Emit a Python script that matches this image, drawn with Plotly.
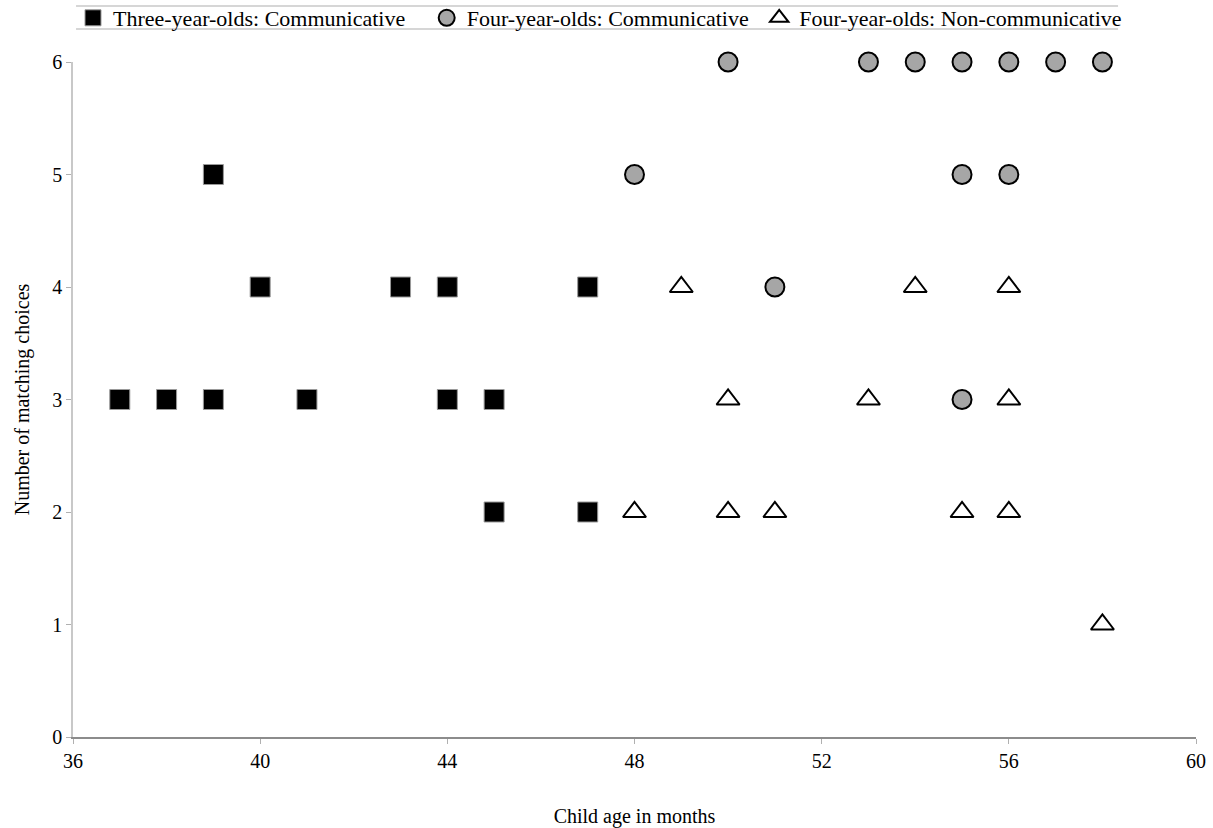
import plotly.graph_objects as go

# Three-year-olds: Communicative
three_comm_age = [37, 38, 39, 39, 40, 41, 43, 44, 44, 45, 45, 47, 47]
three_comm_val = [3, 3, 3, 5, 4, 3, 4, 4, 3, 3, 2, 4, 2]

# Four-year-olds: Communicative
four_comm_age = [48, 50, 51, 53, 54, 55, 56, 57, 58, 55, 56, 55]
four_comm_val = [5, 6, 4, 6, 6, 6, 6, 6, 6, 5, 5, 3]

# Four-year-olds: Non-communicative
four_non_age = [49, 54, 56, 50, 53, 56, 48, 50, 51, 55, 56, 58]
four_non_val = [4, 4, 4, 3, 3, 3, 2, 2, 2, 2, 2, 1]

x_ticks = [36, 40, 44, 48, 52, 56, 60]
y_ticks = [0, 1, 2, 3, 4, 5, 6]

FONT = "Liberation Serif"
NB = "\u00a0"

fig = go.Figure()
fig.add_trace(go.Scatter(
    x=three_comm_age, y=three_comm_val, mode="markers", cliponaxis=False,
    name="Three-year-olds: Communicative" + NB * 3,
    marker=dict(symbol="square", size=20, color="black",
                line=dict(color="#999999", width=1)),
))
fig.add_trace(go.Scatter(
    x=four_comm_age, y=four_comm_val, mode="markers", cliponaxis=False,
    name="Four-year-olds: Communicative" + NB,
    marker=dict(symbol="circle", size=19, color="#a6a6a6",
                line=dict(color="black", width=2)),
))
fig.add_trace(go.Scatter(
    x=four_non_age, y=four_non_val, mode="markers", cliponaxis=False,
    name="Four-year-olds: Non-communicative",
    marker=dict(symbol="triangle-up", size=20, color="white",
                line=dict(color="black", width=2)),
))

fig.update_layout(
    width=1213, height=828,
    margin=dict(l=73, r=17, t=62, b=91, autoexpand=False),
    plot_bgcolor="white", paper_bgcolor="white",
    font=dict(family=FONT, size=20, color="black"),
    showlegend=True,
    legend=dict(
        orientation="h", x=0.0, y=1.0963, xanchor="left", yanchor="top",
        font=dict(family=FONT, size=22, color="black"),
        bgcolor="rgba(0,0,0,0)", borderwidth=0,
        itemwidth=30, tracegroupgap=0,
    ),
    xaxis=dict(
        range=[36, 60], tickvals=x_ticks, ticktext=[str(v) for v in x_ticks],
        showgrid=False, zeroline=False, showline=True, linecolor="#8c8c8c",
        linewidth=1.5, ticks="outside", ticklen=5, tickcolor="#b0b0b0",
        tickfont=dict(family=FONT, size=20),
        title=dict(text="Child age in months", font=dict(family=FONT, size=20),
                   standoff=38),
    ),
    yaxis=dict(
        range=[0, 6], tickvals=y_ticks, showgrid=False, zeroline=False,
        showline=True, linecolor="#c8c8c8", linewidth=1.5,
        ticks="outside", ticklen=5, tickcolor="#b0b0b0",
        tickfont=dict(family=FONT, size=20),
        title=dict(text="Number of matching choices",
                   font=dict(family=FONT, size=20), standoff=17),
    ),
    shapes=[
        dict(type="line", xref="paper", yref="paper", x0=0.0027, x1=0.9306,
             y0=1.083, y1=1.083, line=dict(color="#c8c8c8", width=1.5)),
        dict(type="line", xref="paper", yref="paper", x0=0.0027, x1=0.9306,
             y0=1.049, y1=1.049, line=dict(color="#c8c8c8", width=1.5)),
    ],
)

fig.write_html("out.html", config={"displayModeBar": False},
               post_script="document.body.style.margin='0';")
